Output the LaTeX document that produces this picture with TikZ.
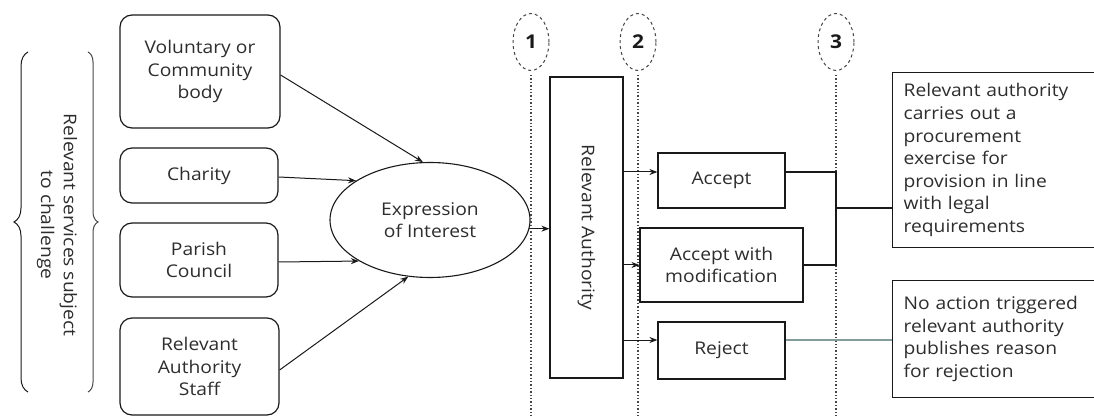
\documentclass[tikz,border=0pt]{standalone}
\usepackage{fontspec}
\setmainfont{Open Sans}[FakeStretch=1.1]
\usetikzlibrary{shapes.geometric,arrows.meta,decorations.pathreplacing}
\definecolor{txt}{RGB}{45,45,45}
\definecolor{ln}{RGB}{25,25,25}
\definecolor{dotc}{RGB}{70,70,70}
\definecolor{tealgray}{RGB}{130,155,155}
\begin{document}
\begin{tikzpicture}[x=1pt,y=-1pt,
  font=\fontsize{17.5}{22.6}\selectfont, text=txt,
  srcbox/.style={draw=ln,line width=1.2pt,rounded corners=12pt,align=center,inner sep=2pt},
  plainbox/.style={draw=ln,line width=1.2pt,align=center,inner sep=2pt},
  outbox/.style={draw=ln,line width=1.2pt,align=left,inner sep=0pt,anchor=north west},
  arr/.style={draw=ln,line width=1pt,-{Stealth[length=8pt,width=6pt]}},
  conn/.style={draw=ln,line width=1.1pt},
  dotline/.style={draw=dotc,line width=1.4pt,dotted},
  stage/.style={draw=dotc,line width=1pt,dashed,ellipse,minimum width=36pt,minimum height=57pt,inner sep=0pt,font=\fontsize{19}{20}\selectfont\bfseries,text=ln},
]
\useasboundingbox (0,0) rectangle (1094,419);

% brace and label
\draw[draw=ln,line width=1pt,decorate,decoration={brace,amplitude=14pt}] (28,392) -- (28,52);
\draw[draw=dotc,line width=1pt,decorate,decoration={brace,amplitude=10pt}] (88,52) -- (88,392);
\node[rotate=-90,align=center] (lab) at (57,225) {Relevant services subject\\to challenge};

% source boxes
\node[srcbox,minimum width=160pt,minimum height=113pt] (vol) at (200,71.5) {Voluntary or\\Community\\body};
\node[srcbox,minimum width=158pt,minimum height=55pt] (cha) at (199,175.5) {Charity};
\node[srcbox,minimum width=158pt,minimum height=74pt] (par) at (199,260) {Parish\\Council};
\node[srcbox,minimum width=159pt,minimum height=97pt] (sta) at (199.5,366.5) {Relevant\\Authority\\Staff};

% ellipse
\node[draw=ln,line width=1.1pt,ellipse,minimum width=200pt,minimum height=115pt,align=center,inner sep=0pt] (eoi) at (430,220) {Expression\\of Interest};

\draw[arr] (vol.east |- 0,75) -- (eoi.97);
\draw[arr] (cha.east |- 0,177) -- (eoi.152);
\draw[arr] (par.east |- 0,262) -- (eoi.210);
\draw[arr] (sta.east |- 0,370) -- (eoi.249);

% stage markers
\node[stage] (s1) at (531,42) {1};
\node[stage] (s2) at (638,42) {2};
\node[stage] (s3) at (836,42) {3};
\coordinate (e1) at (531,416);
\coordinate (e2) at (638,416);
\coordinate (e3) at (836,416);
\draw[dotline] (s1.south) ++(0,4) -- (e1);
\draw[dotline] (s2.south) ++(0,4) -- (e2);
\draw[dotline] (s3.south) ++(0,4) -- (e3);

% relevant authority
\node[plainbox,minimum width=73pt,minimum height=301pt] (ra) at (586.5,227.5) {};
\node[rotate=-90] (ratext) at (ra.center) {Relevant Authority};

\draw[arr] (eoi.-5) -- (ra.west |- eoi.-5);

% decisions
\node[plainbox,minimum width=127pt,minimum height=55pt] (acc) at (721.5,180.5) {Accept};
\node[plainbox,minimum width=163pt,minimum height=74pt,fill=white] (mod) at (721.5,265) {Accept with\\modification};
\node[plainbox,minimum width=127pt,minimum height=57pt] (rej) at (721.5,350.5) {Reject};

\draw[arr] (ra.east |- 0,172) -- (acc.west |- 0,172);
\draw[arr] (ra.east |- mod.west) -- (mod.west);
\draw[arr] (ra.east |- 0,340) -- (rej.west |- 0,340);

% outcomes
\node[outbox,minimum width=206pt,minimum height=175pt,text width=195pt,inner xsep=11pt] (out1) at (892,72) {Relevant authority\\carries out a\\procurement\\exercise for\\provision in line\\with legal\\requirements};
\node[outbox,minimum width=206pt,minimum height=117pt,text width=195pt,inner xsep=11pt] (out2) at (892,280) {No action triggered\\relevant authority\\publishes reason\\for rejection};

\coordinate (b1) at (836,172);
\coordinate (b2) at (836,265);
\coordinate (bm) at (836,208);
\draw[conn] (acc.east |- b1) -- (b1) -- (b2) -- (mod.east);
\draw[conn] (bm) -- (out1.west |- bm);
\draw[draw=tealgray,line width=1.4pt] (rej.east |- 0,340) -- (out2.west |- 0,340);
\end{tikzpicture}
\end{document}
